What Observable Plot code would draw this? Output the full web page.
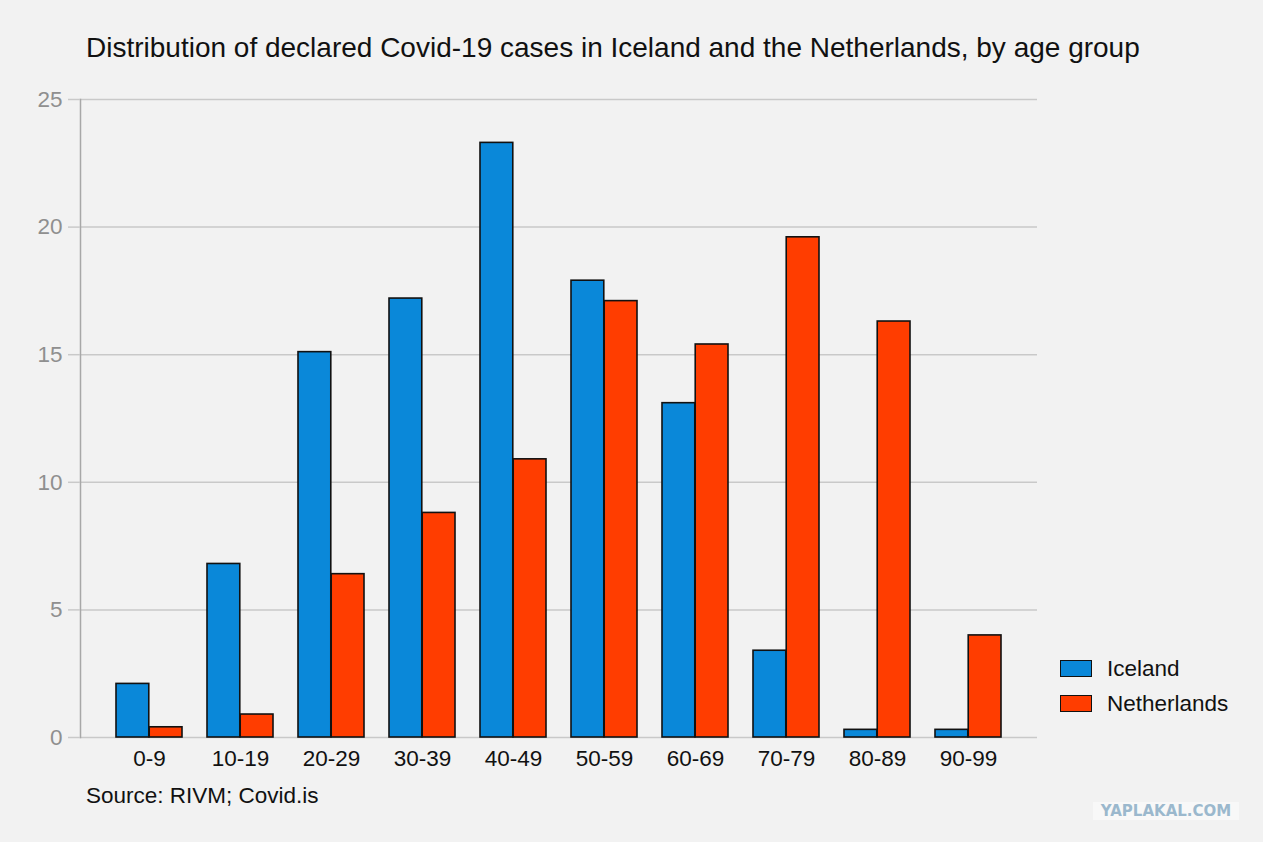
<!DOCTYPE html>
<html>
<head>
<meta charset="utf-8">
<script src="https://cdn.jsdelivr.net/npm/d3@7"></script>
<script src="https://cdn.jsdelivr.net/npm/@observablehq/plot@0.6"></script>
<style>
  html, body { margin: 0; padding: 0; background: #f2f2f2; }
  body { width: 1263px; height: 842px; position: relative; overflow: hidden; font-family: "Liberation Sans", Arial, Helvetica, sans-serif; }
  #title { position: absolute; left: 86px; top: 31px; font-size: 28px; line-height: 34px; color: #111; white-space: nowrap; }
  #chart { position: absolute; left: 0; top: 80px; }
  #source { position: absolute; left: 86px; top: 783px; font-size: 22.5px; line-height: 26px; color: #111; }
  #legend { position: absolute; left: 1060px; top: 651px; font-size: 22.5px; color: #111; }
  .item { display: flex; align-items: center; height: 35px; }
  .sw { width: 32px; height: 17px; border: 1.5px solid #111; margin-right: 15px; box-sizing: border-box; }
  .wm { position: absolute; left: 1093px; top: 802px; width: 146px; height: 18px; background: #f8f8f8; text-align: center; font: bold 15px/18px "DejaVu Sans", sans-serif; color: #9bb8cd; }
</style>
</head>
<body>
<div id="title">Distribution of declared Covid-19 cases in Iceland and the Netherlands, by age group</div>
<div id="chart"></div>
<div id="legend"></div>
<div id="source">Source: RIVM; Covid.is</div>
<div class="wm">YAPLAKAL.COM</div>
<script>
const ageGroups = ["0-9", "10-19", "20-29", "30-39", "40-49", "50-59", "60-69", "70-79", "80-89", "90-99"];
const iceland = [2.1, 6.8, 15.1, 17.2, 23.3, 17.9, 13.1, 3.4, 0.3, 0.3];
const netherlands = [0.4, 0.9, 6.4, 8.8, 10.9, 17.1, 15.4, 19.6, 16.3, 4.0];
const seriesNames = ["Iceland", "Netherlands"];
const seriesColors = ["#0a88d9", "#ff3d00"];
const yTicks = [0, 5, 10, 15, 20, 25];

const dataIceland = ageGroups.map((a, i) => ({age: a, value: iceland[i], series: "Iceland"}));
const dataNL = ageGroups.map((a, i) => ({age: a, value: netherlands[i], series: "Netherlands"}));

const W = 1263, marginLeft = 80, marginRight = 226;
const paddingInner = 0.27, paddingOuter = 0.393;
const step = (W - marginLeft - marginRight) / (ageGroups.length - paddingInner + 2 * paddingOuter);
const half = step * (1 - paddingInner) / 2;

const chart = Plot.plot({
  width: W,
  height: 700,
  marginLeft,
  marginRight,
  marginTop: 19,
  marginBottom: 43,
  style: {background: "transparent", fontFamily: "Liberation Sans, Arial, sans-serif", fontSize: "22.5px", overflow: "visible"},
  x: {domain: ageGroups, paddingInner, paddingOuter, label: null},
  y: {domain: [0, 25], label: null},
  color: {domain: seriesNames, range: seriesColors},
  marks: [
    Plot.ruleY(yTicks, {stroke: "#c9c9c9", strokeWidth: 1.5}),
    Plot.frame({anchor: "left", stroke: "#a8a8a8", strokeWidth: 1.5}),
    Plot.axisY({ticks: yTicks, tickSize: 12, tickPadding: 6, stroke: "#c9c9c9", color: "#8f8f8f", fontSize: 22.5, strokeWidth: 1.5}),
    Plot.axisX({tickSize: 0, tickPadding: 13, color: "#111", fontSize: 22.5}),
    Plot.barY(dataIceland, {x: "age", y: "value", fill: "series", stroke: "#111", strokeWidth: 1.6, insetRight: half}),
    Plot.barY(dataNL, {x: "age", y: "value", fill: "series", stroke: "#111", strokeWidth: 1.6, insetLeft: half})
  ]
});
document.getElementById("chart").appendChild(chart);

const legend = document.getElementById("legend");
seriesNames.forEach((name, i) => {
  const item = document.createElement("div");
  item.className = "item";
  const sw = document.createElement("div");
  sw.className = "sw";
  sw.style.background = seriesColors[i];
  const label = document.createElement("span");
  label.textContent = name;
  item.appendChild(sw);
  item.appendChild(label);
  legend.appendChild(item);
});
</script>
</body>
</html>
